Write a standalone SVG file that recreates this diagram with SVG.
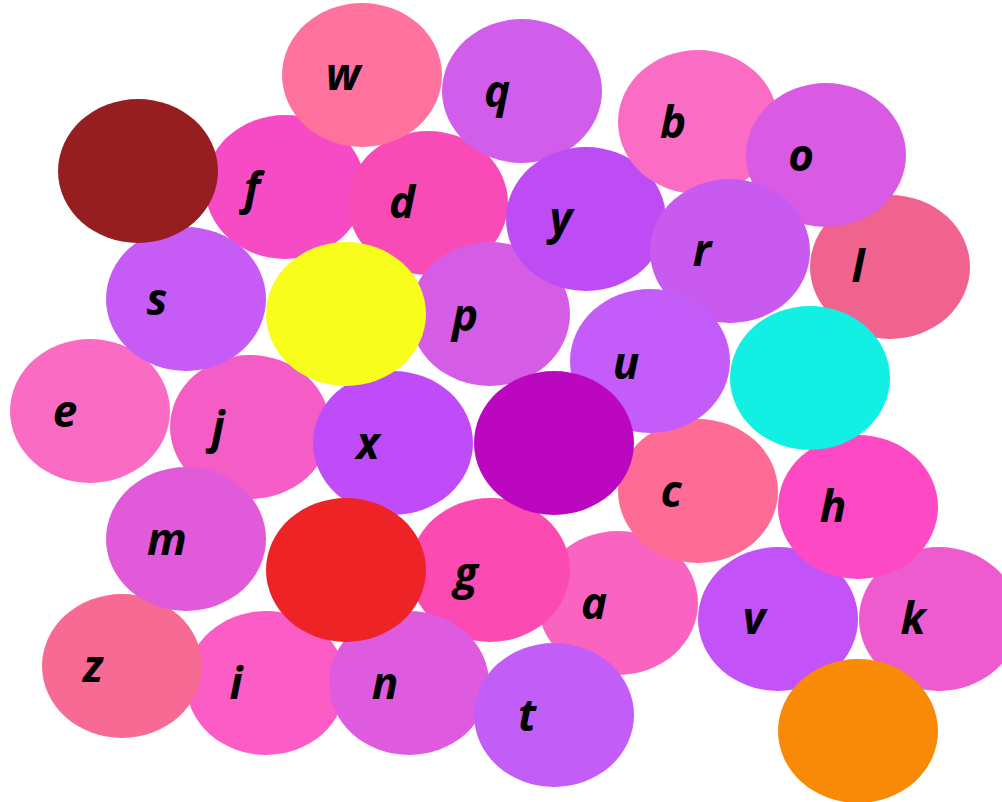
<svg xmlns="http://www.w3.org/2000/svg" width="1002" height="802" viewBox="0 0 1002 802">
<style>
.n ellipse{rx:80px;ry:72px}
.n text{font-family:"Open Sans","Liberation Sans",sans-serif;font-weight:bold;font-style:italic;font-size:44px;fill:#000;text-anchor:middle}
</style>
<rect width="1002" height="802" fill="#ffffff"/>
<g id="e" class="n"><ellipse cx="90" cy="411" rx="80" ry="72" fill="#FA6CC3"/><text x="65" y="427">e</text></g>
<g id="j" class="n"><ellipse cx="250" cy="427" rx="80" ry="72" fill="#F45CC6"/><text x="218" y="443">j</text></g>
<g id="x" class="n"><ellipse cx="393" cy="443" rx="80" ry="72" fill="#C04CF9"/><text x="368" y="459">x</text></g>
<g id="f" class="n"><ellipse cx="285" cy="187" rx="80" ry="72" fill="#F74BC6"/><text x="252" y="204">f</text></g>
<g id="s" class="n"><ellipse cx="186" cy="299" rx="80" ry="72" fill="#C65CF5"/><text x="157" y="315">s</text></g>
<g id="n_darkred" class="n"><ellipse cx="138" cy="171" rx="80" ry="72" fill="#961E20"/></g>
<g id="d" class="n"><ellipse cx="428" cy="203" rx="80" ry="72" fill="#F94BB5"/><text x="402" y="218">d</text></g>
<g id="w" class="n"><ellipse cx="362" cy="75" rx="80" ry="72" fill="#FF729E"/><text x="343" y="90">w</text></g>
<g id="q" class="n"><ellipse cx="522" cy="91" rx="80" ry="72" fill="#D05EEB"/><text x="497" y="107">q</text></g>
<g id="p" class="n"><ellipse cx="490" cy="314" rx="80" ry="72" fill="#D55CE5"/><text x="465" y="331">p</text></g>
<g id="n_yellow" class="n"><ellipse cx="346" cy="314" rx="80" ry="72" fill="#F8FD1C"/></g>
<g id="y" class="n"><ellipse cx="586" cy="219" rx="80" ry="72" fill="#BE4CF4"/><text x="561" y="234">y</text></g>
<g id="b" class="n"><ellipse cx="698" cy="122" rx="80" ry="72" fill="#FB6CC4"/><text x="673" y="138">b</text></g>
<g id="l" class="n"><ellipse cx="890" cy="267" rx="80" ry="72" fill="#EF638E"/><text x="858" y="282">l</text></g>
<g id="o" class="n"><ellipse cx="826" cy="155" rx="80" ry="72" fill="#D95BE3"/><text x="801" y="171">o</text></g>
<g id="r" class="n"><ellipse cx="730" cy="251" rx="80" ry="72" fill="#C85AF0"/><text x="702" y="266">r</text></g>
<g id="a" class="n"><ellipse cx="618" cy="603" rx="80" ry="72" fill="#FB63C0"/><text x="594" y="619">a</text></g>
<g id="c" class="n"><ellipse cx="698" cy="491" rx="80" ry="72" fill="#FE6C96"/><text x="671" y="507">c</text></g>
<g id="u" class="n"><ellipse cx="650" cy="361" rx="80" ry="72" fill="#C35CF8"/><text x="626" y="379">u</text></g>
<g id="g" class="n"><ellipse cx="490" cy="570" rx="80" ry="72" fill="#FB4AB2"/><text x="466" y="589">g</text></g>
<g id="n_purple" class="n"><ellipse cx="554" cy="443" rx="80" ry="72" fill="#BC07C1"/></g>
<g id="i" class="n"><ellipse cx="266" cy="683" rx="80" ry="72" fill="#FB5CC6"/><text x="236" y="699">i</text></g>
<g id="z" class="n"><ellipse cx="122" cy="666" rx="80" ry="72" fill="#F76A93"/><text x="93" y="682">z</text></g>
<g id="m" class="n"><ellipse cx="186" cy="539" rx="80" ry="72" fill="#E15ADA"/><text x="167" y="555">m</text></g>
<g id="n" class="n"><ellipse cx="409" cy="683" rx="80" ry="72" fill="#DE5ADF"/><text x="385" y="699">n</text></g>
<g id="n_red" class="n"><ellipse cx="346" cy="570" rx="80" ry="72" fill="#EE2325"/></g>
<g id="t" class="n"><ellipse cx="554" cy="715" rx="80" ry="72" fill="#C25DF7"/><text x="527" y="731">t</text></g>
<g id="v" class="n"><ellipse cx="778" cy="619" rx="80" ry="72" fill="#C452F9"/><text x="754" y="634">v</text></g>
<g id="k" class="n"><ellipse cx="939" cy="619" rx="80" ry="72" fill="#EE5BCE"/><text x="913" y="634">k</text></g>
<g id="h" class="n"><ellipse cx="858" cy="507" rx="80" ry="72" fill="#FE49C4"/><text x="833" y="522">h</text></g>
<g id="n_cyan" class="n"><ellipse cx="810" cy="378" rx="80" ry="72" fill="#12EFE3"/></g>
<g id="n_orange" class="n"><ellipse cx="858" cy="731" rx="80" ry="72" fill="#F88A07"/></g>
<g id="connectors"></g>
</svg>
